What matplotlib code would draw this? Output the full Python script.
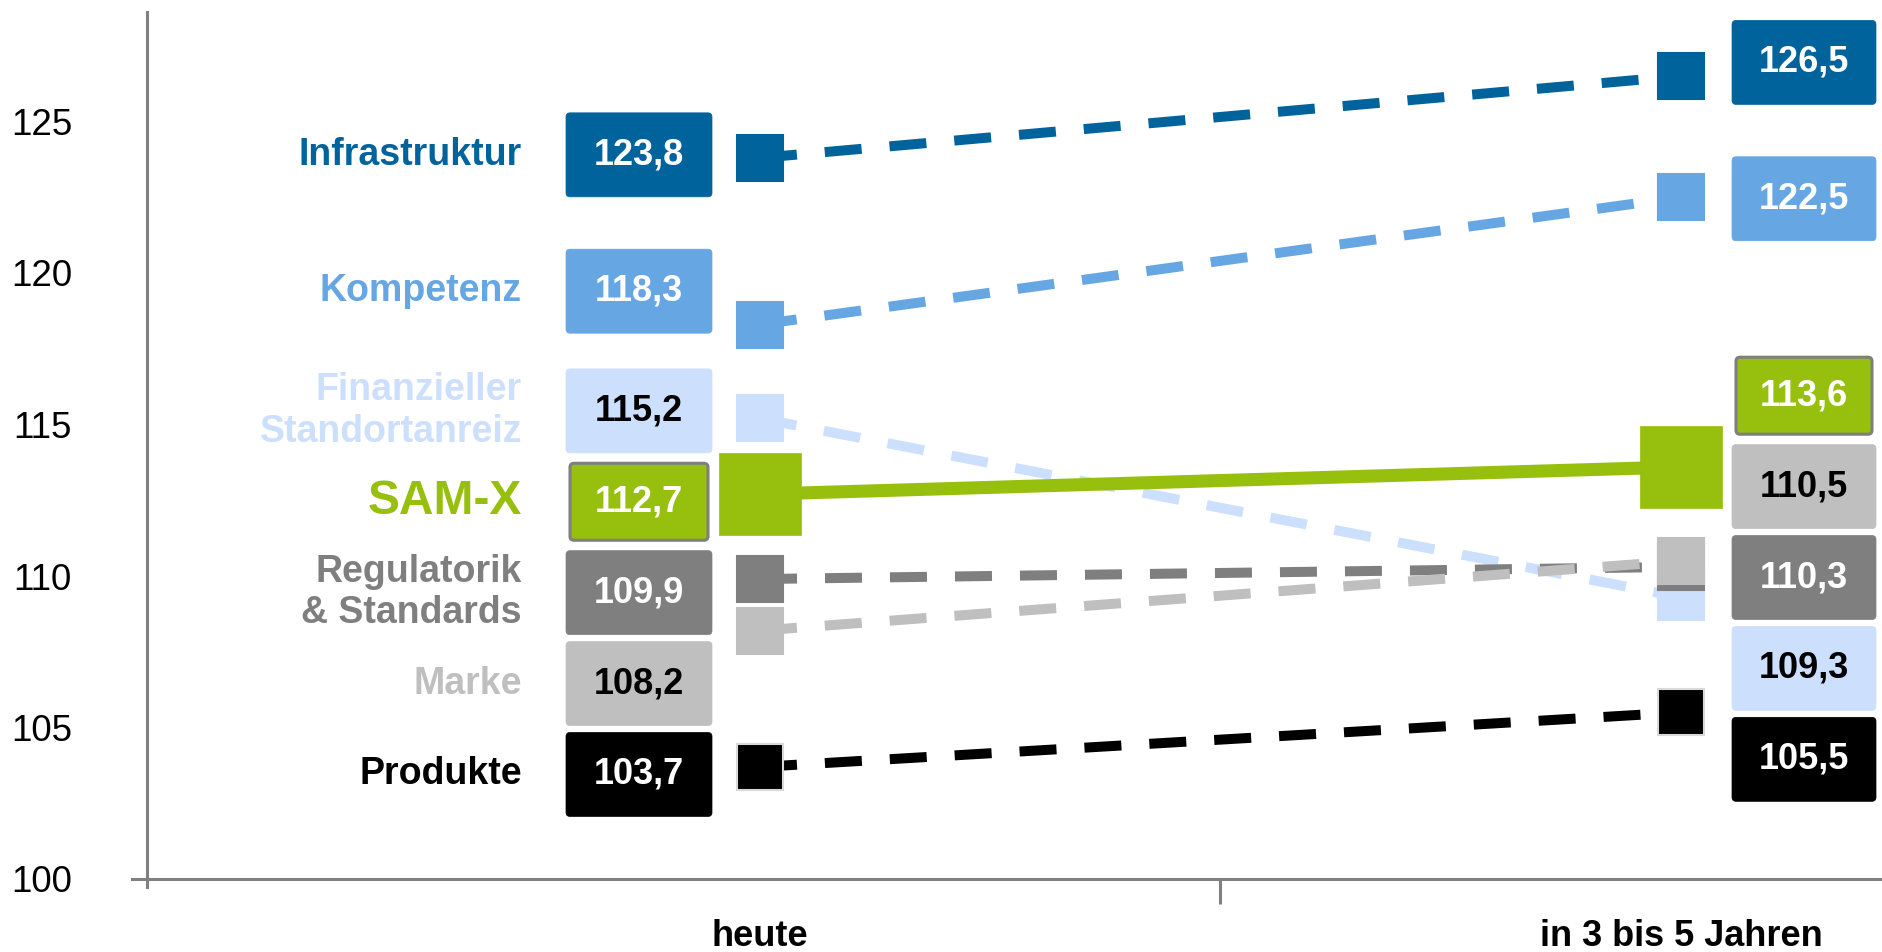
import matplotlib.pyplot as plt
from matplotlib.patches import FancyBboxPatch

plt.rcParams['font.family'] = ['Liberation Sans', 'DejaVu Sans']

# Daten
kategorien = ["heute", "in 3 bis 5 Jahren"]
namen = ["Infrastruktur", "Kompetenz", "Finanzieller\nStandortanreiz",
         "Regulatorik\n& Standards", "Marke", "Produkte", "SAM-X"]
heute = [123.8, 118.3, 115.2, 109.9, 108.2, 103.7, 112.7]
zukunft = [126.5, 122.5, 109.3, 110.3, 110.5, 105.5, 113.6]
yticks = [100, 105, 110, 115, 120, 125]

# Layout / Stil
farben = ["#00639C", "#66A6E2", "#CCDFFD", "#7F7F7F", "#BFBFBF", "#000000", "#97BF0D"]
textfarben = ["white", "white", "black", "white", "black", "white", "white"]
slots_links = [123.9, 119.4, 115.45, 112.45, 109.45, 106.45, 103.45]
slots_rechts = [126.95, 122.45, 115.95, 112.95, 109.95, 106.95, 103.95]

PX_X = 921.0   # Pixel pro x-Einheit
PX_Y = 30.3    # Pixel pro y-Einheit
X0 = 760       # Pixel von x=0

fig = plt.figure(figsize=(18.83, 9.52), dpi=100)
ax = fig.add_axes([132 / 1883, 65 / 952, 1751 / 1883, 875 / 952])
ax.set_xlim((132 - X0) / PX_X, (1883 - X0) / PX_X)
ybot = 100 - 8 / PX_Y
ax.set_ylim(ybot, ybot + 875 / PX_Y)


def px(x_pixel):
    return (x_pixel - X0) / PX_X


# Linien und Marker
for i in range(len(namen)):
    sam = namen[i] == "SAM-X"
    if sam:
        ax.plot([0, 1], [heute[i], zukunft[i]], color=farben[i], lw=9.4,
                solid_capstyle='butt', zorder=10)
        ax.plot([0, 1], [heute[i], zukunft[i]], ls='none', marker='s', ms=59,
                mfc=farben[i], mec=farben[i], mew=0.5, zorder=10)
    else:
        ax.plot([0, 1], [heute[i], zukunft[i]], color=farben[i], lw=7.2,
                dashes=(3.7, 2.8), zorder=3 + i)
        mec = "#D9D9D9" if farben[i] == "#000000" else farben[i]
        ax.plot([0, 1], [heute[i], zukunft[i]], ls='none', marker='s', ms=33,
                mfc=farben[i], mec=mec, mew=1.5, zorder=3 + i)

# Wert-Boxen
def box(xl, xr, yc, i, wert):
    sam = namen[i] == "SAM-X"
    h = (77 if sam else 84) / PX_Y
    if sam:
        xl, xr = xl + 4 / PX_X, xr - 4 / PX_X
    p = FancyBboxPatch((xl, yc - h / 2), xr - xl, h,
                       boxstyle="round,pad=0,rounding_size=%f" % (4 / PX_X),
                       mutation_aspect=PX_X / PX_Y,
                       facecolor=farben[i],
                       edgecolor="#7F7F7F" if sam else farben[i],
                       lw=2.2 if sam else 0.5, zorder=20, clip_on=False)
    ax.add_patch(p)
    ax.text((xl + xr) / 2, yc, f"{wert:.1f}".replace(".", ","),
            ha='center', va='center', fontsize=26, fontweight='bold',
            color=textfarben[i], zorder=21)


order_l = sorted(range(len(namen)), key=lambda k: -heute[k])
order_r = sorted(range(len(namen)), key=lambda k: -zukunft[k])
for slot, i in zip(slots_links, order_l):
    box(px(566), px(712), slot, i, heute[i])
    sam = namen[i] == "SAM-X"
    ax.text(px(522), slot, namen[i], ha='right', va='center',
            fontsize=34.5 if sam else 27, fontweight='bold',
            color=farben[i], linespacing=1.2)
for slot, i in zip(slots_rechts, order_r):
    box(px(1732), px(1876), slot, i, zukunft[i])

# Achsen
for s in ['top', 'right']:
    ax.spines[s].set_visible(False)
ax.spines['left'].set_position(('data', px(147)))
ax.spines['bottom'].set_position(('data', 100))
for s in ['left', 'bottom']:
    ax.spines[s].set_color('#808080')
    ax.spines[s].set_linewidth(2.2)

ax.set_yticks(yticks)
ax.set_yticklabels([str(t) for t in yticks])
ax.tick_params(axis='y', length=0, pad=54, labelsize=26.5)

ax.set_xticks([0.5])
ax.set_xticklabels([""])
ax.tick_params(axis='x', which='major', length=18, width=2.2, color='#808080')
ax.set_xticks([0, 1], minor=True)
ax.set_xticklabels(kategorien, minor=True, fontsize=26, fontweight='bold')
ax.tick_params(axis='x', which='minor', length=0, pad=29)

fig.savefig("out.png", dpi=100)
